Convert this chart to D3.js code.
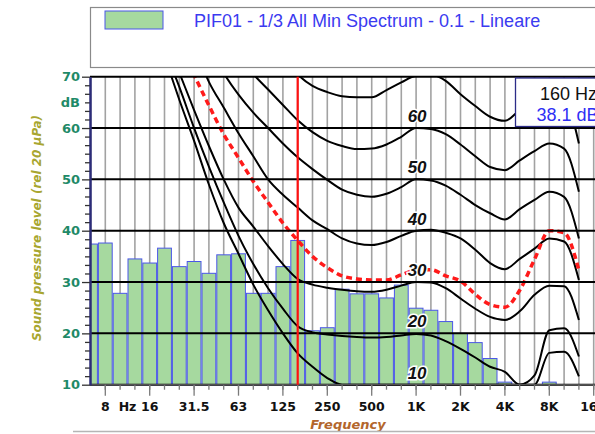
<!DOCTYPE html>
<html><head><meta charset="utf-8">
<script src="https://cdn.jsdelivr.net/npm/d3@7"></script>
<style>
body{margin:0;background:#fff;overflow:hidden}
svg{display:block}
</style>
</head><body>
<svg id="c" width="595" height="434"></svg>
<script>
// ---------- data ----------
const bands = ["6.3","8","10","12.5","16","20","25","31.5","40","50","63","80","100","125","160","200","250","315","400","500","630","800","1K","1.25K","1.6K","2K","2.5K","3.15K","4K","5K","6.3K","8K","10K","12.5K","16K","20K"];
const spectrum = [37.4,37.6,27.8,34.5,33.7,36.6,33.0,34.0,31.7,35.3,35.5,27.8,27.8,33.0,38.1,20.5,21.1,28.6,27.7,27.7,26.9,29.4,24.9,24.5,22.3,20.0,18.2,15.1,10.5,9.0,8.0,10.5,7.0,5.0,4.0,3.0];
const majorTicks = ["8","16","31.5","63","125","250","500","1K","2K","4K","8K","16K"];
const yMajor = [10,20,30,40,50,60,70];
// contour bands: 16 Hz .. 12.5 kHz
const contourBands = bands.slice(4,34);
const phon10 = [82,74.0,65.5,57.5,49.0,41.5,35.5,29.5,24.5,20.0,16.1,13.5,11.3,10,10,10,10,10,10,10,10,10,10,10,10,10,10,16.2,16.4,11.6];
const phon20 = [83,75.5,68.0,60.0,52.5,45.5,39.0,33.5,28.8,24.8,21.4,20.2,19.8,19.5,19.3,19.2,19.3,19.6,19.9,19.6,18.5,17.0,15.3,13.5,12.5,10,11.8,20.6,21.0,15.5];
const phon30 = [null,78,70.8,63.5,56.5,50.0,44.5,40.8,37.0,33.5,30.6,29.5,28.9,28.5,28.2,28.1,28.5,29.3,30.0,29.9,28.8,26.8,24.8,23.2,22.6,24.3,27.5,29.3,29.2,22.6];
const phon40 = [null,null,null,76,69.0,64.0,59.0,54.5,50.0,47.0,44.5,42.0,40.3,38.5,37.5,37.2,37.8,39.0,40.0,40.2,39.6,38.5,36.3,33.7,32.5,34.5,36.5,38.5,37.9,30.4];
const phon50 = [null,null,null,null,76,70.7,66.5,63.0,60.0,57.0,54.3,52.0,49.9,48.0,47.0,46.6,47.2,48.5,50.0,49.8,48.8,47.0,45.0,43.4,42.2,44.2,46.0,47.6,46.6,38.5];
const phon60 = [null,null,null,null,null,null,74,70.5,67.5,64.5,61.5,59.2,57.5,56.5,55.9,56.0,56.8,58.3,60.0,59.8,58.8,56.8,54.5,52.4,51.8,53.7,55.5,57.0,56.0,47.6];
const phon70 = [null,null,null,null,null,null,null,null,null,73.5,70.4,68.2,67.0,66.2,66.0,66.0,67.4,68.9,70.2,70.4,69.2,66.6,64.3,62.2,61.4,63.5,65.5,67.0,66.0,57.0];
const measured = [null,null,76,70.3,64.4,58.8,54.2,49.6,45.5,41.5,38.1,35.0,32.8,31.2,30.6,30.4,30.4,31.4,32.3,32.4,31.2,30.2,27.6,25.6,25.1,28.4,34.4,40.0,39.6,32.3];
const contourLabels = [10,20,30,40,50,60];
const cursorBand = "160", cursorValue = 38.1;
const legendText = "PIF01 - 1/3 All Min Spectrum - 0.1 - Lineare";

// ---------- scales ----------
const svg = d3.select("#c");
const x = d3.scaleBand().domain(bands).range([83.1, 83.1 + 36*14.8]).padding(0);
const bw = x.bandwidth();
const cx = b => x(b) + bw/2;
const y = d3.scaleLinear().domain([10,70]).range([384.7,76.7]);
const L = 90, T = y(70), B = y(10), R = 700;

const defs = svg.append("defs");
defs.append("clipPath").attr("id","plot").append("rect")
  .attr("x",L).attr("y",T).attr("width",R-L).attr("height",B-T+1.5);

// legend box
svg.append("rect").attr("x",90.5).attr("y",7.5).attr("width",620).attr("height",60)
  .attr("fill","#fff").attr("stroke","#8a8a8a").attr("stroke-width",1.2);
svg.append("rect").attr("x",105).attr("y",11).attr("width",58).attr("height",18)
  .attr("fill","#a6d99f").attr("stroke","#4a56e8").attr("stroke-width",1);
svg.append("text").attr("x",194).attr("y",26.5).text(legendText)
  .attr("font-family","Liberation Sans, Arial, sans-serif").attr("font-size",18).attr("fill","#3b3bf0");

const plot = svg.append("g").attr("clip-path","url(#plot)");

// vertical grid
plot.selectAll("line.vg").data(bands).join("line").attr("class","vg")
  .attr("x1",d=>cx(d)).attr("x2",d=>cx(d)).attr("y1",T).attr("y2",B)
  .attr("stroke","#a2a2a2").attr("stroke-width",1.6);
// horizontal grid
svg.selectAll("line.hg").data(yMajor).join("line").attr("class","hg")
  .attr("x1",L).attr("x2",R).attr("y1",d=>y(d)).attr("y2",d=>y(d))
  .attr("stroke","#000").attr("stroke-width",2);

// bars
plot.selectAll("rect.bar").data(spectrum.map((v,i)=>({b:bands[i],v}))).join("rect").attr("class","bar")
  .attr("x",d=>x(d.b)+0.5).attr("width",bw-1)
  .attr("y",d=>y(Math.max(d.v,10))).attr("height",d=>B-y(Math.max(d.v,10)))
  .attr("fill","#a6d99f").attr("stroke","#4a56e8").attr("stroke-width",1);

// x axis
const xMinor = svg.append("g").attr("transform",`translate(0,${B})`)
  .call(d3.axisBottom(x).tickValues(bands.slice(1)).tickSize(5).tickSizeOuter(0).tickFormat(""));
const xMajor = svg.append("g").attr("transform",`translate(0,${B})`)
  .call(d3.axisBottom(x).tickValues(majorTicks).tickSize(11).tickSizeOuter(0).tickPadding(6));
[xMinor,xMajor].forEach(g=>{
  g.select(".domain").attr("stroke","#555").attr("stroke-width",1).attr("d",`M${L},0H${R}`);
  g.selectAll(".tick line").attr("stroke","#7a7a7a").attr("stroke-width",1.3);
});
xMajor.selectAll("text").attr("font-family","DejaVu Sans, Verdana, sans-serif")
  .attr("font-weight","bold").attr("font-size",12.5).attr("fill","#111");
svg.append("text").attr("x",x("12.5")).attr("y",B+26).attr("text-anchor","middle").text("Hz")
  .attr("font-family","DejaVu Sans, Verdana, sans-serif").attr("font-weight","bold").attr("font-size",12.5).attr("fill","#111");

// y axis
const minorVals = d3.range(10,70.01,10/6).filter(v=>Math.abs(v/10-Math.round(v/10))>0.01);
const yMinorG = svg.append("g").attr("transform",`translate(${L},0)`)
  .call(d3.axisLeft(y).tickValues(minorVals).tickSize(5).tickSizeOuter(0).tickFormat(""));
const yMajorG = svg.append("g").attr("transform",`translate(${L},0)`)
  .call(d3.axisLeft(y).tickValues(yMajor).tickSize(8).tickSizeOuter(0).tickPadding(2));
[yMinorG,yMajorG].forEach(g=>{
  g.select(".domain").attr("stroke","#2c2c78").attr("stroke-width",2);
  g.selectAll(".tick line").attr("stroke","#333").attr("stroke-width",1.3);
});
yMajorG.selectAll("text").attr("font-family","DejaVu Sans, Verdana, sans-serif")
  .attr("font-size",13).attr("fill","#1f8a68").attr("font-weight","600");
svg.append("text").attr("x",L-10).attr("y",y(65)).attr("dy","0.35em").attr("text-anchor","end").text("dB")
  .attr("font-family","DejaVu Sans, Verdana, sans-serif").attr("font-size",13).attr("fill","#1f8a68").attr("font-weight","600");

// contours
const line = d3.line().defined(d=>d[1]!=null).x(d=>cx(d[0])).y(d=>y(d[1])).curve(d3.curveMonotoneX);
const pts = arr => arr.map((v,i)=>[contourBands[i],v]);
[phon10,phon20,phon30,phon40,phon50,phon60,phon70].forEach(arr=>{
  plot.append("path").attr("d",line(pts(arr))).attr("fill","none").attr("stroke","#000").attr("stroke-width",2);
});
plot.append("path").attr("d",line(pts(measured))).attr("fill","none")
  .attr("stroke","#ff1a1a").attr("stroke-width",3.5).attr("stroke-dasharray","6,4");

// cursor
svg.append("line").attr("x1",cx(cursorBand)).attr("x2",cx(cursorBand)).attr("y1",T).attr("y2",B)
  .attr("stroke","#ff1010").attr("stroke-width",2.2);

// contour labels
svg.selectAll("text.cl").data(contourLabels).join("text").attr("class","cl")
  .attr("x",cx("1K")+1).attr("y",d=>y(d)-6).attr("text-anchor","middle").text(d=>d)
  .attr("font-family","Liberation Sans, Arial, sans-serif").attr("font-weight","bold").attr("font-style","italic")
  .attr("font-size",17).attr("fill","#111")
  .attr("stroke","#fff").attr("stroke-width",3).attr("paint-order","stroke");

// tooltip
svg.append("rect").attr("x",515.5).attr("y",78).attr("width",150).attr("height",48.5)
  .attr("fill","#fff").attr("stroke","#2c2c88").attr("stroke-width",1.3);
svg.append("text").attr("x",540).attr("y",100).text(cursorBand+" Hz")
  .attr("font-family","Liberation Sans, Arial, sans-serif").attr("font-size",18).attr("fill","#111");
svg.append("text").attr("x",536.5).attr("y",121).text(cursorValue.toFixed(1)+" dB")
  .attr("font-family","Liberation Sans, Arial, sans-serif").attr("font-size",18).attr("fill","#2f2ff5");

// axis titles
svg.append("text").attr("transform","translate(41,228) rotate(-90)").attr("text-anchor","middle")
  .text("Sound pressure level (rel 20 µPa)")
  .attr("font-family","DejaVu Sans, Verdana, sans-serif").attr("font-weight","bold").attr("font-style","italic")
  .attr("font-size",12).attr("fill","#a8a630");
svg.append("text").attr("x",348).attr("y",429).attr("text-anchor","middle").text("Frequency")
  .attr("font-family","DejaVu Sans, Verdana, sans-serif").attr("font-weight","bold").attr("font-style","italic")
  .attr("font-size",13).attr("fill","#b3662c");

// bottom frame line
svg.append("line").attr("x1",73).attr("x2",595).attr("y1",431.5).attr("y2",431.5)
  .attr("stroke","#b5b5b5").attr("stroke-width",1.5);
</script>
</body></html>
